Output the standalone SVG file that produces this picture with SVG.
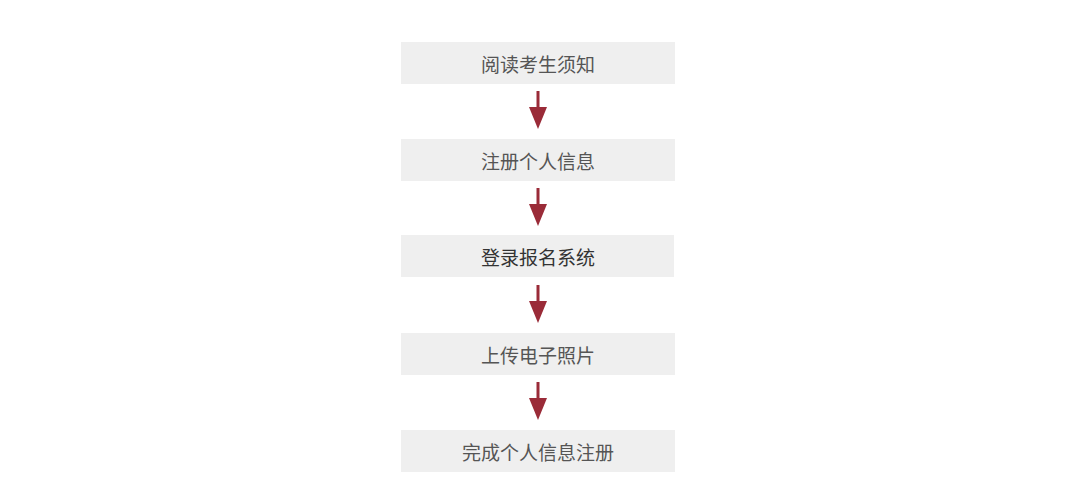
<svg xmlns="http://www.w3.org/2000/svg" width="1080" height="499" viewBox="0 0 1080 499">
<style>
.box{fill:#efefef}
.t{font-family:"Noto Sans CJK SC","Liberation Sans",sans-serif;font-size:19px;fill:#555;text-anchor:middle;dominant-baseline:central}
.dark{fill:#333}
.ln{stroke:#9a2b38;stroke-width:3;fill:none}
.hd{fill:#9a2b38}
</style>
<rect width="1080" height="499" fill="#ffffff"/>
<g id="n1"><rect class="box" x="401" y="42" width="274" height="42"/><text class="t" x="538" y="63">阅读考生须知</text></g>
<g id="n2"><rect class="box" x="401" y="139" width="274" height="42"/><text class="t" x="538" y="160">注册个人信息</text></g>
<g id="n3"><rect class="box" x="401" y="235" width="273" height="42"/><text class="t dark" x="538" y="256">登录报名系统</text></g>
<g id="n4"><rect class="box" x="401" y="333" width="274" height="42"/><text class="t" x="538" y="354">上传电子照片</text></g>
<g id="n5"><rect class="box" x="401" y="430" width="274" height="42"/><text class="t" x="538" y="451">完成个人信息注册</text></g>
<g id="connectors">
<line class="ln" x1="538" y1="91" x2="538" y2="109"/><polygon class="hd" points="529,107 547,107 538,129"/>
<line class="ln" x1="538" y1="188" x2="538" y2="206"/><polygon class="hd" points="529,204 547,204 538,226"/>
<line class="ln" x1="538" y1="285" x2="538" y2="303"/><polygon class="hd" points="529,301 547,301 538,323"/>
<line class="ln" x1="538" y1="382" x2="538" y2="400"/><polygon class="hd" points="529,398 547,398 538,420"/>
</g>
</svg>
